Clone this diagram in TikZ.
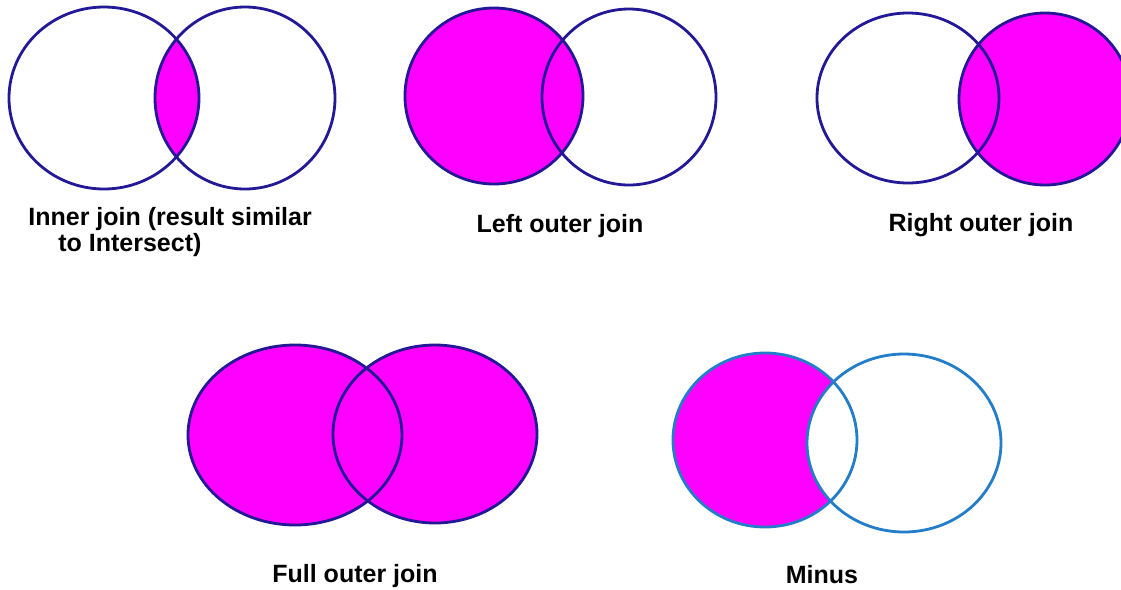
\documentclass[tikz,border=0pt]{standalone}
\usepackage{fontspec}
\setmainfont{Liberation Sans}
\definecolor{JoinBlue}{RGB}{35,25,150}
\definecolor{JoinLight}{RGB}{35,125,200}
\definecolor{JoinMagenta}{RGB}{255,0,255}

\begin{document}
\begin{tikzpicture}[
    x=0.5pt, y=-0.5pt,
    every node/.style={font=\fontsize{12.5}{13}\selectfont\bfseries, inner sep=0pt, align=left},
    outline/.style={draw=JoinBlue, line width=1.4pt},
    lightline/.style={draw=JoinLight, line width=1.4pt},
    hit/.style={fill=JoinMagenta}
  ]
    \useasboundingbox[fill=white] (0,0) rectangle (1121,590);

    % Centres of the two sets in each picture
    \coordinate (innL) at (104,98);
    \coordinate (innR) at (245,98);
    \coordinate (leftL) at (494,96);
    \coordinate (leftR) at (629,97);
    \coordinate (rightL) at (908,98);
    \coordinate (rightR) at (1045,99);
    \coordinate (fullL) at (295,435);
    \coordinate (fullR) at (435,434);
    \coordinate (minusL) at (765,440);
    \coordinate (minusR) at (904,443);

    % Inner join
    \begin{scope}
      \clip (innL) ellipse [x radius=95, y radius=91];
      \fill[hit] (innR) ellipse [x radius=90, y radius=91];
    \end{scope}
    \draw[outline] (innL) ellipse [x radius=95, y radius=91];
    \draw[outline] (innR) ellipse [x radius=90, y radius=91];
    \node[anchor=north west] (innText) at (28,207) {Inner join (result similar\\\hspace*{15pt}to Intersect)};

    % Left outer join
    \fill[hit] (leftL) ellipse [x radius=89, y radius=88];
    \draw[outline] (leftL) ellipse [x radius=89, y radius=88];
    \draw[outline] (leftR) ellipse [x radius=87, y radius=88];
    \node[anchor=base] (leftText) at (560,232) {Left outer join};

    % Right outer join
    \fill[hit] (rightR) ellipse [x radius=86, y radius=86];
    \draw[outline] (rightL) ellipse [x radius=91, y radius=85];
    \draw[outline] (rightR) ellipse [x radius=86, y radius=86];
    \node[anchor=base] (rightText) at (981,231) {Right outer join};

    % Full outer join
    \fill[hit] (fullL) ellipse [x radius=107, y radius=90];
    \fill[hit] (fullR) ellipse [x radius=102, y radius=89];
    \draw[outline] (fullL) ellipse [x radius=107, y radius=90];
    \draw[outline] (fullR) ellipse [x radius=102, y radius=89];
    \node[anchor=base] (fullText) at (355,582) {Full outer join};

    % Minus
    \fill[hit] (minusL) ellipse [x radius=92, y radius=87];
    \fill[white] (minusR) ellipse [x radius=97, y radius=89];
    \draw[lightline] (minusL) ellipse [x radius=92, y radius=87];
    \draw[lightline] (minusR) ellipse [x radius=97, y radius=89];
    \node[anchor=base] (minusText) at (822,583) {Minus};
\end{tikzpicture}
\end{document}
